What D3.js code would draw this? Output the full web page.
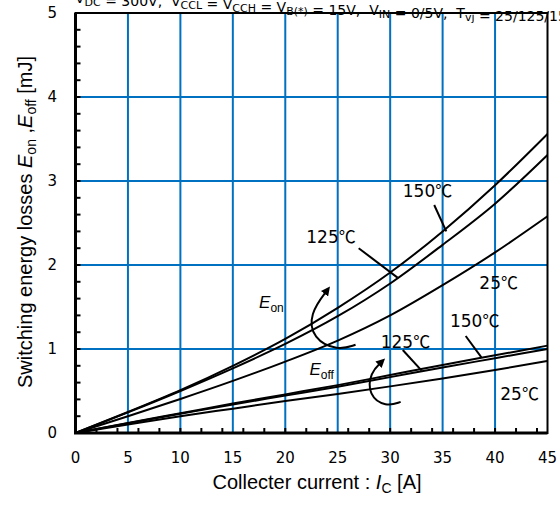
<!DOCTYPE html>
<html>
<head>
<meta charset="utf-8">
<script src="https://cdnjs.cloudflare.com/ajax/libs/d3/7.8.5/d3.min.js"></script>
<style>
  body { margin: 0; background: #fff; }
  svg text { fill: #000; }
  .tick-lab { font-family: "DejaVu Sans", Verdana, sans-serif; font-size: 15px; }
  .title { font-family: "Liberation Sans", Arial, sans-serif; font-size: 20px; }
  .temp { font-family: "DejaVu Sans", sans-serif; font-size: 17px; }
  .deg { font-family: "Noto Sans CJK JP", sans-serif; }
  .cond { font-family: "DejaVu Sans", sans-serif; font-size: 14px; white-space: pre; }
</style>
</head>
<body>
<svg width="560" height="506"></svg>
<script>
// collector current [A]
var current = [0, 5, 10, 15, 20, 25, 30, 35, 40, 45];
// switching losses [mJ]
var eon150 = [0, 0.25, 0.51, 0.80, 1.12, 1.49, 1.91, 2.40, 2.95, 3.56];
var eon125 = [0, 0.245, 0.50, 0.77, 1.06, 1.39, 1.78, 2.24, 2.73, 3.31];
var eon25 = [0, 0.20, 0.405, 0.62, 0.85, 1.10, 1.40, 1.76, 2.15, 2.58];
var eoff150 = [0, 0.12, 0.235, 0.35, 0.46, 0.57, 0.69, 0.81, 0.925, 1.04];
var eoff125 = [0, 0.115, 0.228, 0.34, 0.445, 0.55, 0.665, 0.78, 0.89, 1.0];
var eoff25 = [0, 0.10, 0.20, 0.29, 0.38, 0.465, 0.555, 0.65, 0.75, 0.857];

var xTicks = [0, 5, 10, 15, 20, 25, 30, 35, 40, 45];
var yTicks = [0, 1, 2, 3, 4, 5];

var svg = d3.select("svg");
var x = d3.scaleLinear().domain([0, 45]).range([75.5, 547.5]);
var y = d3.scaleLinear().domain([0, 5]).range([433, 13]);

var blue = "#0070c0";

// grid
svg.append("g").selectAll("line").data(xTicks.slice(1, -1)).enter().append("line")
    .attr("x1", d => x(d)).attr("x2", d => x(d))
    .attr("y1", y(0)).attr("y2", y(5))
    .attr("stroke", blue).attr("stroke-width", 2);
svg.append("g").selectAll("line").data(yTicks.slice(1, -1)).enter().append("line")
    .attr("x1", x(0)).attr("x2", x(45))
    .attr("y1", d => y(d)).attr("y2", d => y(d))
    .attr("stroke", blue).attr("stroke-width", 2);

// minor ticks (inward)
svg.append("g").selectAll("line").data(d3.range(0.2, 5, 0.2)).enter().append("line")
    .attr("x1", x(0)).attr("x2", x(0) + 5)
    .attr("y1", d => y(d)).attr("y2", d => y(d))
    .attr("stroke", "#000").attr("stroke-width", 2);
svg.append("g").selectAll("line").data(d3.range(2, 45, 2)).enter().append("line")
    .attr("x1", d => x(d)).attr("x2", d => x(d))
    .attr("y1", y(0)).attr("y2", y(0) - 5)
    .attr("stroke", "#000").attr("stroke-width", 2);

// frame
svg.append("rect")
    .attr("x", x(0)).attr("y", y(5))
    .attr("width", x(45) - x(0)).attr("height", y(0) - y(5))
    .attr("fill", "none").attr("stroke", "#000").attr("stroke-width", 2);
svg.append("path")
    .attr("d", "M" + x(0) + "," + y(5) + "V" + y(0) + "H" + x(45))
    .attr("fill", "none").attr("stroke", "#000").attr("stroke-width", 3);

// tick labels
svg.append("g").selectAll("text").data(xTicks).enter().append("text")
    .attr("class", "tick-lab")
    .attr("x", d => x(d)).attr("y", 463)
    .attr("text-anchor", "middle")
    .text(d => d);
svg.append("g").selectAll("text").data(yTicks).enter().append("text")
    .attr("class", "tick-lab")
    .attr("x", 57).attr("y", d => y(d) + 5)
    .attr("text-anchor", "end")
    .text(d => d);

// curves
var line = d3.line()
    .x((d, i) => x(current[i]))
    .y(d => y(d))
    .curve(d3.curveMonotoneX);

var curves = [eon150, eon125, eon25, eoff150, eoff125, eoff25];
svg.append("g").selectAll("path").data(curves).enter().append("path")
    .attr("d", line)
    .attr("fill", "none")
    .attr("stroke", "#000")
    .attr("stroke-width", 2);

// annotations
var ann = svg.append("g");
function label(t, px, py) {
    var tx = ann.append("text").attr("class", "temp")
        .attr("x", x(px)).attr("y", y(py));
    tx.append("tspan").text(t);
    tx.append("tspan").attr("class", "deg").text("℃");
}
function leader(a, b, c, d) {
    ann.append("line")
        .attr("x1", x(a)).attr("y1", y(b))
        .attr("x2", x(c)).attr("y2", y(d))
        .attr("stroke", "#000").attr("stroke-width", 2);
}
label("150", 31.2, 2.81);
leader(34.2, 2.714, 35.35, 2.40);
label("125", 22.0, 2.265);
leader(27.0, 2.2, 30.7, 1.85);
label("25", 38.5, 1.71);
label("150", 35.7, 1.265);
leader(37.2, 1.155, 38.7, 0.90);
label("125", 29.1, 1.008);
leader(31.2, 0.988, 33.0, 0.742);
label("25", 40.5, 0.393);

function eLabel(sub, px, py) {
    var t = ann.append("text").attr("class", "title").style("font-size", "17px")
        .attr("x", x(px)).attr("y", y(py));
    t.append("tspan").style("font-style", "italic").text("E");
    t.append("tspan").attr("dy", 4).style("font-size", "12px").text(sub);
}
eLabel("on", 17.5, 1.49);
eLabel("off", 22.3, 0.69);

svg.append("defs").append("marker")
    .attr("id", "arr").attr("viewBox", "0 0 10 10")
    .attr("refX", 5).attr("refY", 5)
    .attr("markerWidth", 4.5).attr("markerHeight", 4.5)
    .attr("orient", "auto")
    .append("path").attr("d", "M0,0L10,5L0,10z").attr("fill", "#000");

var arc = d3.line().x(d => x(d[0])).y(d => y(d[1])).curve(d3.curveBasis);
ann.append("path")
    .attr("d", arc([[26.7, 1.05], [25.0, 0.98], [22.6, 1.12], [22.3, 1.42], [24.0, 1.70]]))
    .attr("fill", "none").attr("stroke", "#000").attr("stroke-width", 2)
    .attr("marker-end", "url(#arr)");
ann.append("path")
    .attr("d", arc([[31.0, 0.37], [29.6, 0.31], [27.9, 0.45], [28.1, 0.72], [29.2, 0.85]]))
    .attr("fill", "none").attr("stroke", "#000").attr("stroke-width", 2)
    .attr("marker-end", "url(#arr)");

// axis titles
var yt = svg.append("text").attr("class", "title")
    .attr("transform", "translate(32,222) rotate(-90)")
    .attr("text-anchor", "middle");
yt.append("tspan").text("Switching energy losses ");
yt.append("tspan").style("font-style", "italic").text("E");
yt.append("tspan").attr("dy", 4).style("font-size", "14px").text("on");
yt.append("tspan").attr("dy", -4).text(" ,");
yt.append("tspan").style("font-style", "italic").text("E");
yt.append("tspan").attr("dy", 4).style("font-size", "14px").text("off");
yt.append("tspan").attr("dy", -4).text(" [mJ]");

var xt = svg.append("text").attr("class", "title")
    .attr("x", 317).attr("y", 489)
    .attr("text-anchor", "middle");
xt.append("tspan").text("Collecter current : ");
xt.append("tspan").style("font-style", "italic").text("I");
xt.append("tspan").attr("dy", 4).style("font-size", "14px").text("C");
xt.append("tspan").attr("dy", -4).text(" [A]");

// conditions line (cut off at the top of the picture)
var cond = svg.append("text").attr("class", "cond")
    .attr("x", 75).attr("y", 2.5);
function part(main, sub) {
    cond.append("tspan").text(main);
    if (sub) {
        cond.append("tspan").attr("dy", 3).style("font-size", "11px").text(sub);
        cond.append("tspan").attr("dy", -3).text("");
    }
}
part("V", "DC");
part(" = 300V,  V", "CCL");
part(" = V", "CCH");
part(" = V", "B(*)");
part(" = 15V,  V", "IN");
part(" = 0/5V,  T", "vj");
part(" = 25/125/150℃");
</script>
</body>
</html>
